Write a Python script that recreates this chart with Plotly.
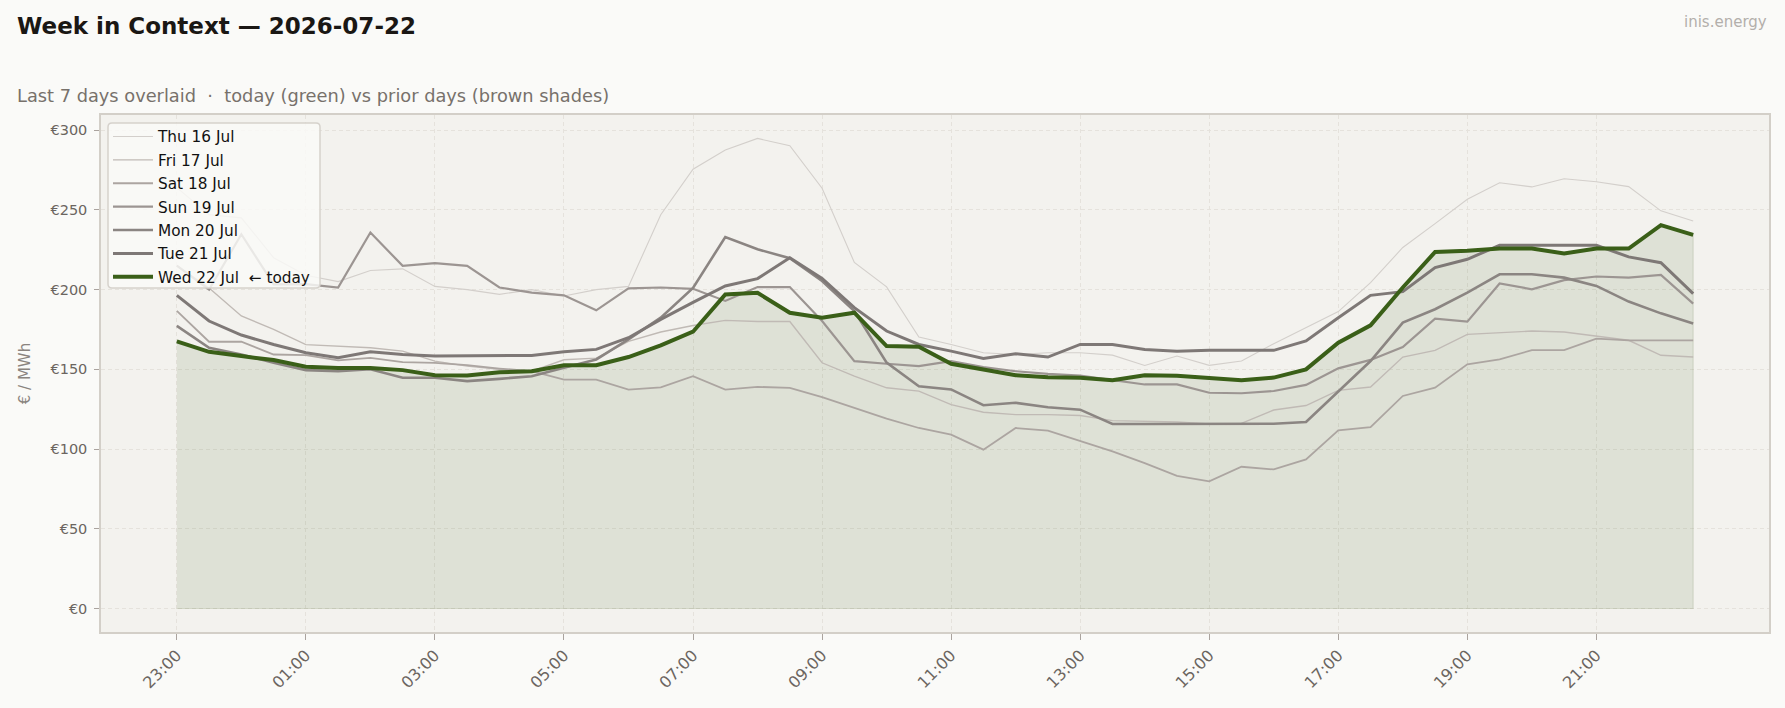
import plotly.graph_objects as go

times = ["23:00","23:30","00:00","00:30","01:00","01:30","02:00","02:30","03:00","03:30",
         "04:00","04:30","05:00","05:30","06:00","06:30","07:00","07:30","08:00","08:30",
         "09:00","09:30","10:00","10:30","11:00","11:30","12:00","12:30","13:00","13:30",
         "14:00","14:30","15:00","15:30","16:00","16:30","17:00","17:30","18:00","18:30",
         "19:00","19:30","20:00","20:30","21:00","21:30","22:00","22:30"]

day_names = ["Thu 16 Jul", "Fri 17 Jul", "Sat 18 Jul", "Sun 19 Jul", "Mon 20 Jul", "Tue 21 Jul",
             "Wed 22 Jul\u00a0 \u2190 today"]

thu = [264, 247, 245, 220, 209, 205, 212, 213, 202, 200, 197, 200, 196, 200, 202, 247, 275.5, 287.5,
       294.8, 290.2, 263.6, 217, 201.7, 170.2, 165.6, 160.4, 159.3, 160.4, 160.4, 158.9, 152.4, 158.3,
       152.5, 155.2, 166.1, 176.2, 186.2, 204.4, 226.4, 241.4, 256.7, 267, 264.4, 269.5, 267.6, 264.6,
       249.4, 243]
fri = [215, 201, 183.5, 175.1, 165.5, 164.5, 163.5, 161.4, 155.1, 152, 150, 148.8, 156, 157, 167.5,
       173.4, 177.5, 180.7, 180, 180, 154.1, 145.7, 138.4, 136.3, 127.9, 123.1, 121.6, 121.6, 121,
       117.8, 117.4, 117, 115.7, 116.1, 124.5, 127.3, 136.8, 138.9, 157.7, 161.9, 171.9, 172.8, 174,
       173.4, 170.7, 168.2, 158.8, 157.7]
sat = [186.6, 167.3, 167.3, 159.3, 158.9, 155.6, 157.2, 154.5, 154.1, 152.6, 150.5, 148.8, 143.6,
       143.6, 137.3, 138.7, 145.7, 137.3, 139, 138.4, 132.5, 125.8, 119.1, 113.2, 109, 99.6, 113.2,
       111.5, 104.8, 98.5, 91.2, 83.2, 79.7, 88.9, 87.2, 93.5, 111.7, 113.8, 133.3, 138.5, 153.1,
       156.3, 162, 162, 169.2, 168.2, 168.2, 168.2]
sun = [215, 200, 234.7, 203.3, 203.4, 201.3, 235.8, 214.9, 216.6, 214.9, 201.3, 198.1, 196.4, 187,
       200.8, 201.3, 200.5, 192.9, 201.6, 201.6, 180.3, 155.1, 153.5, 152, 155.1, 151.4, 148.8, 147.1,
       146.1, 143.2, 140.5, 140.5, 135.3, 135, 136.4, 140.2, 150.6, 155.9, 164, 181.8, 179.9, 203.8,
       200.2, 205.9, 208.2, 207.5, 209.2, 191.2]
mon = [177.2, 163.5, 159.3, 154.1, 149.5, 148.9, 150, 144.7, 144.7, 142.6, 144, 145.7, 151, 156.2,
       168.8, 182.4, 201, 233, 225.3, 219.7, 205.4, 186.6, 154.2, 139.4, 137.4, 127.5, 129, 126.2,
       124.7, 115.7, 115.7, 115.7, 115.7, 115.7, 115.9, 117, 136.4, 155.2, 179.3, 187.7, 198.1, 209.6,
       209.6, 207.5, 202.3, 192.5, 185.1, 178.7]
tue = [196.4, 180.3, 171.5, 165.6, 160.4, 157.2, 161, 159.3, 158.3, 158.3, 158.7, 158.7, 161, 162.5,
       169.8, 181.3, 192, 202.3, 206.9, 220, 207, 188.7, 174, 165.6, 161.4, 156.8, 159.8, 157.7, 165.6,
       165.6, 162.5, 161.4, 162, 161.9, 161.9, 167.8, 182.4, 196.4, 198.7, 213.8, 219, 227.8, 227.8,
       227.8, 227.8, 220.5, 216.9, 197.5]
wed = [167.5, 161, 158.3, 155.8, 151.6, 150.9, 150.9, 149.5, 146.3, 146.1, 148.2, 148.8, 152.6,
       152.6, 157.7, 165, 173.6, 197, 198, 185.5, 182.4, 185.5, 164.6, 164.2, 153.5, 149.9, 146.3,
       145.1, 144.7, 143.2, 146.3, 145.9, 144.7, 143.1, 144.8, 150, 166.7, 177.6, 201.3, 223.6, 224.3,
       225.7, 225.7, 222.6, 225.7, 225.7, 240.4, 234.3]

prior_series = [thu, fri, sat, sun, mon, tue]
prior_colors = ["#d3cfcb", "#c0bab5", "#aca5a1", "#9c9592", "#8b8582", "#7e7876"]
prior_widths = [1.1, 1.4, 1.8, 2.2, 2.6, 3.0]
today_color = "#3a5f18"

y_ticks = [0, 50, 100, 150, 200, 250, 300]
y_tick_labels = ["\u20ac0", "\u20ac50", "\u20ac100", "\u20ac150", "\u20ac200", "\u20ac250", "\u20ac300"]

idx = list(range(len(times)))
tick_idx = idx[::4]
tick_text = times[::4]

fig = go.Figure()

fig.add_trace(go.Scatter(
    x=idx + [idx[-1], idx[0]], y=wed + [0, 0], fill="toself", mode="lines",
    fillcolor="rgba(58,95,24,0.11)", line=dict(color="rgba(58,95,24,0.13)", width=1.2),
    showlegend=False, hoverinfo="skip"))

for i, (name, vals) in enumerate(zip(day_names[:-1], prior_series)):
    fig.add_trace(go.Scatter(
        x=idx, y=vals, mode="lines", name=name, legendgroup=name,
        line=dict(color=prior_colors[i], width=prior_widths[i])))

fig.add_trace(go.Scatter(
    x=idx, y=wed, mode="lines", name=day_names[-1], legendgroup="today",
    line=dict(color=today_color, width=4)))

font_family = "DejaVu Sans"
W, H = 1785, 708
ml, mr, mt, mb = 101, 16, 115, 76
pw = W - ml - mr
ph = H - mt - mb

def px_(x_px):
    return (x_px - ml) / pw

def py(y_px):
    return (H - mb - y_px) / ph

# legend frame (rounded box drawn as a shape behind the legend text)
bx0, bx1 = px_(108), px_(320)
by_top, by_bot = py(123), py(288)
rx, ry = 4 / pw, 4 / ph
legend_box = (f"M {bx0+rx},{by_top} L {bx1-rx},{by_top} Q {bx1},{by_top} {bx1},{by_top-ry} "
              f"L {bx1},{by_bot+ry} Q {bx1},{by_bot} {bx1-rx},{by_bot} "
              f"L {bx0+rx},{by_bot} Q {bx0},{by_bot} {bx0},{by_bot+ry} "
              f"L {bx0},{by_top-ry} Q {bx0},{by_top} {bx0+rx},{by_top} Z")

fig.update_layout(
    width=W, height=H,
    margin=dict(l=ml, r=mr, t=mt, b=mb),
    paper_bgcolor="#fafaf8", plot_bgcolor="#f3f2ee",
    font=dict(family=font_family, color="#6b6560", size=14),
    showlegend=True,
    legend=dict(x=px_(108), y=py(120), xanchor="left", yanchor="top",
                bgcolor="rgba(0,0,0,0)", borderwidth=0,
                font=dict(size=15.3, color="#111111", family=font_family),
                tracegroupgap=0.5, itemwidth=40),
    shapes=[dict(type="path", path=legend_box, xref="paper", yref="paper", layer="above",
                 fillcolor="rgba(250,250,248,0.82)", line=dict(color="#d6d2cc", width=1.5))],
    xaxis=dict(range=[-2.35, 49.35], tickmode="array", tickvals=tick_idx, ticktext=tick_text,
               tickangle=-45, ticks="outside", ticklen=6, tickwidth=1.2, tickcolor="#aaa39e",
               showgrid=True, gridcolor="#e5e2dc", griddash="4px,3px", gridwidth=1,
               showline=True, linecolor="#d3cfc8", linewidth=1.5, mirror=True, zeroline=False,
               tickfont=dict(size=16, color="#6b6560")),
    yaxis=dict(range=[-14.74, 309.5], tickmode="array", tickvals=y_ticks, ticktext=y_tick_labels,
               ticks="outside", ticklen=5, tickwidth=1.2, tickcolor="#aaa39e", ticklabelstandoff=4,
               showgrid=True, gridcolor="#e5e2dc", griddash="4px,3px", gridwidth=1,
               showline=True, linecolor="#d3cfc8", linewidth=1.5, mirror=True, zeroline=False,
               tickfont=dict(size=14.5, color="#6b6560"),
               title=dict(text="\u20ac / MWh", font=dict(size=15, color="#8a847f"), standoff=16)),
    annotations=[
        dict(text="<b>Week in Context \u2014 2026-07-22</b>", xref="paper", yref="paper",
             x=px_(15), y=py(26), xanchor="left", yanchor="middle",
             showarrow=False, font=dict(size=23, color="#1a1714", family=font_family)),
        dict(text="Last 7 days overlaid\u00a0 \u00b7\u00a0 today (green) vs prior days (brown shades)",
             xref="paper", yref="paper", x=px_(15), y=py(95),
             xanchor="left", yanchor="middle", showarrow=False,
             font=dict(size=17.8, color="#77716b", family=font_family)),
        dict(text="inis.energy", xref="paper", yref="paper", x=1.0, y=py(22),
             xanchor="right", yanchor="middle", showarrow=False,
             font=dict(size=15, color="#b3afab", family=font_family)),
    ],
)

fig.write_html("out.html")
